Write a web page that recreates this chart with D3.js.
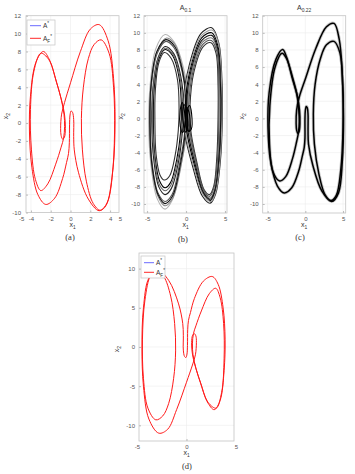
<!DOCTYPE html>
<html>
<head>
<meta charset="utf-8">
<script src="https://cdn.jsdelivr.net/npm/d3@7"></script>
<style>
  body { margin: 0; background: #fff; }
  svg text { font-family: "Liberation Sans", Arial, sans-serif; }
</style>
</head>
<body>
<div id="chart"></div>
<script>
// ---- (a) red periodic orbit: one figure-8 lap plus two inner loops ----
const aLapOuter = [
  [-0.2,-3.4],[-0.12,-2.2],[-0.1,-0.2],[-0.05,0.9],[0.06,1.35],[0.2,1.2],[0.32,0.4],[0.32,-1.5],[0.38,-3.0],
  [0.8,-5.5],[1.8,-8.5],[2.9,-9.8],[3.7,-8.9],[4.3,-5.0],[4.5,0.0],[4.35,5.0],[3.8,9.2],[2.9,11.0],
  [2.0,10.5],[1.0,8.0],[0.0,4.5],[-0.6,2.3],[-0.9,1.0],[-1.0,-0.6],[-0.95,-1.4],[-0.8,-1.8],[-0.62,-1.6],
  [-0.52,-0.6],[-0.6,0.9],[-0.85,2.3],[-1.4,4.5],[-2.1,7.0],[-2.75,8.0],[-3.5,6.8],[-4.05,3.0],
  [-4.15,-1.0],[-3.9,-5.0],[-3.3,-8.0],[-2.5,-9.1],[-1.6,-8.4],[-0.8,-6.2],[-0.4,-4.4]
];
const aLoopRight = [
  [3.1,9.3],[3.9,7.8],[4.35,4.0],[4.45,-1.0],[4.2,-6.0],[3.6,-9.2],[3.0,-9.75],[2.3,-9.0],
  [1.6,-6.5],[1.2,-3.0],[1.1,0.5],[1.3,4.0],[1.8,7.2],[2.4,8.8]
];
const aLoopLeft = [
  [-3.0,7.8],[-3.7,5.8],[-4.05,1.5],[-3.95,-3.0],[-3.55,-6.3],[-3.0,-7.55],[-2.3,-6.8],[-1.5,-4.6],
  [-0.95,-2.7],[-0.7,-1.7],[-0.6,-0.4],[-0.66,1.0],[-0.95,2.7],[-1.45,4.7],[-2.2,7.1]
];

// ---- (b) A_0.1: chaotic bands, grey and black ----
const bLeftLoops = [
  [[-2.7,9.8],[-3.9,8.1],[-4.6,4.0],[-4.8,-0.5],[-4.5,-5.5],[-3.7,-9.4],[-2.7,-10.6],[-1.8,-9.6],[-0.8,-6.0],[0.1,-1.8],[0.3,1.8],[-0.3,5.8],[-1.5,8.9]],
  [[-2.6,9.0],[-3.7,7.6],[-4.45,3.8],[-4.6,-0.5],[-4.35,-5.2],[-3.6,-8.7],[-2.7,-9.7],[-1.8,-8.9],[-0.9,-5.6],[-0.2,-1.8],[0.0,1.6],[-0.5,5.4],[-1.5,8.2]],
  [[-2.7,8.4],[-3.6,7.1],[-4.25,3.6],[-4.4,-0.4],[-4.15,-4.8],[-3.5,-8.0],[-2.7,-8.9],[-1.9,-8.2],[-1.0,-5.2],[-0.5,-1.8],[-0.3,1.4],[-0.7,5.0],[-1.6,7.6]],
  [[-2.7,8.05],[-3.55,6.8],[-4.1,3.4],[-4.2,-0.3],[-4.0,-4.4],[-3.4,-7.3],[-2.7,-8.1],[-2.0,-7.5],[-1.2,-4.8],[-0.7,-1.6],[-0.6,1.3],[-0.9,4.8],[-1.7,7.3]],
  [[-2.8,7.7],[-3.5,6.5],[-3.95,3.2],[-4.0,-0.3],[-3.85,-4.2],[-3.35,-6.6],[-2.8,-7.2],[-2.1,-6.7],[-1.4,-4.3],[-1.0,-1.4],[-0.9,1.2],[-1.1,4.5],[-1.9,7.0]],
  [[-2.5,9.4],[-3.7,7.9],[-4.5,3.9],[-4.7,-0.5],[-4.45,-5.3],[-3.65,-9.0],[-2.7,-10.2],[-1.7,-9.3],[-0.7,-5.8],[0.0,-1.6],[0.2,1.7],[-0.4,5.6],[-1.4,8.6]],
  [[-2.6,9.2],[-3.75,7.8],[-4.5,3.9],[-4.65,-0.5],[-4.4,-5.3],[-3.6,-8.9],[-2.7,-9.95],[-1.75,-9.1],[-0.8,-5.7],[-0.1,-1.7],[0.1,1.7],[-0.45,5.5],[-1.45,8.4]],
  [[-2.7,8.2],[-3.6,6.95],[-4.2,3.5],[-4.3,-0.35],[-4.05,-4.6],[-3.45,-7.7],[-2.7,-8.45],[-1.95,-7.8],[-1.1,-5.0],[-0.6,-1.7],[-0.45,1.35],[-0.8,4.9],[-1.65,7.45]]
];
const bRightLoops = [
  [[3.3,10.6],[4.2,8.8],[4.6,4.5],[4.65,0.0],[4.4,-5.0],[3.8,-8.8],[3.1,-9.9],[2.1,-9.1],[0.9,-5.8],[-0.2,-1.6],[-0.4,1.6],[0.4,6.2],[1.9,9.9]],
  [[3.3,10.0],[4.1,8.4],[4.5,4.3],[4.5,0.0],[4.3,-4.8],[3.75,-8.5],[3.1,-9.6],[2.2,-8.8],[1.1,-5.6],[0.1,-1.6],[-0.1,1.5],[0.6,6.0],[2.0,9.4]],
  [[3.3,9.4],[4.0,8.0],[4.3,4.1],[4.35,0.0],[4.15,-4.6],[3.7,-8.2],[3.1,-9.3],[2.3,-8.6],[1.3,-5.4],[0.4,-1.5],[0.2,1.5],[0.8,5.7],[2.1,8.9]],
  [[3.2,8.85],[3.85,7.6],[4.1,3.9],[4.1,0.0],[3.95,-4.4],[3.55,-7.9],[3.0,-8.9],[2.3,-8.3],[1.4,-5.2],[0.6,-1.4],[0.5,1.4],[1.0,5.4],[2.2,8.4]],
  [[3.4,10.3],[4.2,8.6],[4.55,4.4],[4.6,0.0],[4.35,-4.9],[3.8,-8.6],[3.2,-9.7],[2.2,-8.9],[1.0,-5.7],[-0.1,-1.6],[-0.3,1.6],[0.5,6.1],[2.0,9.7]],
  [[3.3,9.7],[4.05,8.2],[4.4,4.2],[4.45,0.0],[4.2,-4.7],[3.7,-8.35],[3.1,-9.45],[2.25,-8.7],[1.2,-5.5],[0.25,-1.55],[0.05,1.5],[0.7,5.85],[2.05,9.15]],
  [[3.25,9.1],[3.95,7.8],[4.2,4.0],[4.2,0.0],[4.05,-4.5],[3.6,-8.0],[3.05,-9.1],[2.3,-8.45],[1.35,-5.3],[0.5,-1.45],[0.35,1.45],[0.9,5.55],[2.15,8.65]]
];
const bCoreLoops = [
  [[-0.5,1.85],[-0.2,0.8],[-0.2,-1.0],[-0.45,-1.65],[-0.75,-0.9],[-0.75,1.0]],
  [[0.45,1.5],[0.7,0.6],[0.65,-1.3],[0.35,-1.5],[0.2,-0.3],[0.2,1.1]],
  [[-0.2,1.6],[0.1,0.7],[0.15,-1.2],[-0.1,-1.6],[-0.35,-0.6],[-0.4,1.0]],
  [[0.1,1.3],[0.45,0.4],[0.4,-1.5],[0.1,-1.3],[-0.05,0.0]]
];
const bLeftShades = ["#b4b4b4", "#555", "#222", "#000", "#333", "#888", "#111", "#666"];
const bRightShades = ["#222", "#000", "#777", "#333", "#999", "#111", "#555"];

// ---- (c) A_0.22: thick black orbit ----
const cLapOuter = [
  [-0.15,-3.4],[-0.05,-2.3],[-0.05,-0.2],[0.0,0.9],[0.12,1.4],[0.26,1.25],[0.36,0.4],[0.36,-1.5],[0.42,-3.0],
  [1.0,-5.5],[2.2,-8.5],[3.5,-9.7],[4.4,-8.7],[4.9,-5.0],[5.05,0.0],[4.9,5.0],[4.5,9.2],[3.8,11.1],
  [2.8,10.7],[1.4,8.2],[0.0,4.6],[-0.8,2.5],[-1.15,1.0],[-1.22,-0.6],[-1.15,-1.4],[-1.0,-1.75],[-0.82,-1.5],
  [-0.72,-0.6],[-0.78,1.0],[-1.05,2.6],[-1.7,4.6],[-2.5,7.2],[-3.0,8.05],[-3.9,6.9],[-4.8,3.0],
  [-4.95,-1.0],[-4.6,-5.0],[-3.7,-7.9],[-2.8,-8.7],[-1.8,-8.1],[-0.9,-6.2],[-0.4,-4.4]
];
const cLoopRight = [
  [3.8,9.0],[4.6,7.6],[4.95,4.0],[5.0,-1.0],[4.7,-6.0],[4.1,-9.0],[3.4,-9.6],[2.6,-8.9],
  [1.8,-6.5],[1.2,-3.0],[1.06,0.5],[1.3,4.0],[2.0,7.0],[2.8,8.6]
];
const cLoopLeft = [
  [-3.1,7.6],[-4.0,6.0],[-4.7,1.5],[-4.75,-3.0],[-4.3,-6.2],[-3.4,-7.3],[-2.6,-6.8],[-1.7,-4.7],
  [-1.15,-2.7],[-0.9,-1.6],[-0.8,-0.4],[-0.86,0.9],[-1.1,2.7],[-1.7,4.8],[-2.5,7.0]
];

// ---- (d) red orbit, mirrored counterpart ----
const dLapOuter = [
  [0.2,3.4],[0.12,2.2],[0.1,0.2],[0.05,-0.9],[-0.06,-1.35],[-0.2,-1.2],[-0.32,-0.4],[-0.32,1.5],[-0.38,3.0],
  [-0.8,5.5],[-1.8,8.5],[-2.9,9.8],[-3.8,8.8],[-4.35,5.0],[-4.5,0.0],[-4.35,-5.0],[-3.8,-9.2],[-2.8,-11.0],
  [-1.9,-10.5],[-1.0,-8.0],[0.0,-4.5],[0.6,-2.3],[0.9,-1.0],[1.0,0.6],[0.95,1.4],[0.8,1.7],[0.62,1.5],
  [0.52,0.6],[0.6,-0.9],[0.85,-2.3],[1.4,-4.5],[2.1,-7.0],[2.8,-8.0],[3.4,-6.8],[3.8,-3.0],
  [3.9,1.0],[3.7,5.0],[3.2,8.0],[2.6,9.0],[1.7,8.4],[0.8,6.2],[0.4,4.4]
];
const dLoopLeft = [
  [-3.1,-9.3],[-3.9,-7.8],[-4.35,-4.0],[-4.45,1.0],[-4.2,6.0],[-3.6,9.2],[-3.0,9.75],[-2.3,9.0],
  [-1.6,6.5],[-1.2,3.0],[-1.1,-0.5],[-1.3,-4.0],[-1.8,-7.2],[-2.4,-8.8]
];
const dLoopRight = [
  [3.0,-7.8],[3.55,-5.8],[3.8,-1.5],[3.75,3.0],[3.4,6.3],[2.95,7.5],[2.3,6.8],[1.5,4.6],
  [0.95,2.7],[0.7,1.7],[0.6,0.4],[0.66,-1.0],[0.95,-2.7],[1.45,-4.7],[2.2,-7.1]
];

const evenTicks = [-10, -8, -6, -4, -2, 0, 2, 4, 6, 8, 10, 12];

const svg = d3.select("#chart").append("svg")
  .attr("width", 355)
  .attr("height", 474);

// text with sub/superscript parts: [text, "sub"|"sup"|null]
function richText(parent, x, y, parts, size, opts = {}) {
  const t = parent.append("text")
    .attr("x", x).attr("y", y)
    .attr("font-size", size)
    .attr("fill", opts.fill || "#333")
    .attr("text-anchor", opts.anchor || "middle");
  if (opts.rotate) t.attr("transform", `rotate(${opts.rotate},${x},${y})`);
  let shift = 0;
  parts.forEach(([s, kind]) => {
    const target = kind === "sub" ? 2 : kind === "sup" ? -3 : 0;
    t.append("tspan")
      .attr("dy", target - shift)
      .attr("font-size", kind ? size * 0.7 : size)
      .attr("fill", opts.fill || "#333")
      .text(s);
    shift = target;
  });
  return t;
}

function drawPanel(p) {
  const [x0, x1, y0, y1] = p.box;
  const x = d3.scaleLinear().domain(p.xDomain).range([x0, x1]);
  const y = d3.scaleLinear().domain(p.yDomain).range([y1, y0]);
  const g = svg.append("g");

  // grid
  const inX = p.xTicks.filter(d => d > p.xDomain[0] && d < p.xDomain[1]);
  const inY = p.yTicks.filter(d => d > p.yDomain[0] && d < p.yDomain[1]);
  g.append("g").selectAll("line").data(inX).join("line")
    .attr("x1", d => x(d)).attr("x2", d => x(d))
    .attr("y1", y0).attr("y2", y1)
    .attr("stroke", "#ededed").attr("stroke-width", 0.6);
  g.append("g").selectAll("line").data(inY).join("line")
    .attr("y1", d => y(d)).attr("y2", d => y(d))
    .attr("x1", x0).attr("x2", x1)
    .attr("stroke", "#ededed").attr("stroke-width", 0.6);

  // curves
  const clipId = "clip-" + p.id;
  svg.append("clipPath").attr("id", clipId).append("rect")
    .attr("x", x0).attr("y", y0).attr("width", x1 - x0).attr("height", y1 - y0);
  const line = d3.line()
    .x(d => x(d[0])).y(d => y(d[1]))
    .curve(d3.curveCatmullRomClosed.alpha(0.5));
  const curves = g.append("g").attr("clip-path", `url(#${clipId})`);
  p.series.forEach(s => {
    curves.append("path")
      .attr("d", line(s.points))
      .attr("fill", "none")
      .attr("stroke", s.color)
      .attr("stroke-width", s.width)
      .attr("stroke-opacity", s.opacity == null ? 1 : s.opacity);
  });

  // box
  g.append("rect")
    .attr("x", x0).attr("y", y0).attr("width", x1 - x0).attr("height", y1 - y0)
    .attr("fill", "none").attr("stroke", "#c4c4c4").attr("stroke-width", 0.8);

  // axes
  const xa = g.append("g")
    .attr("transform", `translate(0,${y1})`)
    .call(d3.axisBottom(x).tickValues(p.xTicks).tickSizeInner(-2).tickSizeOuter(0)
      .tickPadding(4).tickFormat(d => String(d)));
  const ya = g.append("g")
    .attr("transform", `translate(${x0},0)`)
    .call(d3.axisLeft(y).tickValues(p.yTicks).tickSizeInner(-2).tickSizeOuter(0)
      .tickPadding(p.yPad || 4).tickFormat(d => String(d)));
  [xa, ya].forEach(a => {
    a.select(".domain").remove();
    a.selectAll(".tick line").attr("stroke", "#bbb");
    a.selectAll("text").attr("font-size", 6).attr("fill", "#555")
      .style("font-family", '"Liberation Sans", Arial, sans-serif');
  });
  xa.selectAll(".tick").filter(d => d < p.xDomain[0] || d > p.xDomain[1]).select("line").remove();

  // labels
  richText(g, (x0 + x1) / 2, y1 + 14, [["x", null], ["1", "sub"]], 7);
  richText(g, p.yLabelX, (y0 + y1) / 2 + 2, [["x", null], ["2", "sub"]], 7, { rotate: -90 });
  if (p.title) richText(g, (x0 + x1) / 2, 10, [["A", null], [p.title, "sub"]], 7);
  g.append("text")
    .attr("x", p.caption[1]).attr("y", p.caption[2])
    .attr("text-anchor", "middle")
    .attr("font-size", 8.5)
    .attr("fill", "#333")
    .style("font-family", '"Liberation Serif", "Times New Roman", serif')
    .text(p.caption[0]);

  // legend
  if (p.legend) {
    const L = p.legend;
    const lg = g.append("g");
    lg.append("rect")
      .attr("x", L.x).attr("y", L.y).attr("width", L.w).attr("height", L.h)
      .attr("fill", "#fff").attr("stroke", "#c4c4c4").attr("stroke-width", 0.7);
    const rows = [
      { color: "#6a6aff", parts: [["A", null], ["*", "sup"]] },
      { color: "#ff2a2a", parts: [["A", null], ["F", "sub"], ["*", "sup"]] }
    ];
    rows.forEach((r, i) => {
      const ry = L.y + L.row0 + i * L.dy;
      lg.append("line")
        .attr("x1", L.x + 3).attr("x2", L.x + 3 + L.len)
        .attr("y1", ry).attr("y2", ry)
        .attr("stroke", r.color).attr("stroke-width", 1);
      richText(lg, L.x + 5 + L.len, ry + 2.3, r.parts, 6.5, { anchor: "start" });
    });
  }
}

const red = "#ff1a1a";

drawPanel({
  id: "a",
  box: [26, 119, 15.7, 212.5],
  xDomain: [-4.5, 4.9], yDomain: [-10, 12],
  xTicks: [-5, -4, -2, 0, 2, 4, 5], yTicks: evenTicks,
  yPad: 5,
  yLabelX: 8,
  caption: ["(a)", 70, 240],
  legend: { x: 27, y: 20, w: 28, h: 25, row0: 5.7, dy: 12.6, len: 11 },
  series: [aLapOuter, aLoopRight, aLoopLeft].map(points => ({ points, color: red, width: 1 }))
});

drawPanel({
  id: "b",
  box: [144, 227, 15.7, 213],
  xDomain: [-5.4, 5.25], yDomain: [-11.05, 12],
  xTicks: [-5, 0, 5], yTicks: evenTicks,
  yLabelX: 123,
  title: "0.1",
  caption: ["(b)", 183, 242],
  series: [
    ...bLeftLoops.map((points, i) => ({ points, color: bLeftShades[i], width: 1.1 })),
    ...bRightLoops.map((points, i) => ({ points, color: bRightShades[i], width: 1.1 })),
    ...bCoreLoops.map(points => ({ points, color: "#000", width: 1.1 }))
  ]
});

drawPanel({
  id: "c",
  box: [262.7, 345.7, 15.7, 213],
  xDomain: [-5.65, 5.35], yDomain: [-11.05, 12],
  xTicks: [-5, 0, 5], yTicks: evenTicks,
  yLabelX: 244,
  title: "0.22",
  caption: ["(c)", 300, 240],
  series: [
    ...[cLapOuter, cLoopRight, cLoopLeft].map(points => ({ points, color: "#888", width: 3.2, opacity: 0.45 })),
    ...[cLapOuter, cLoopRight, cLoopLeft].map(points => ({ points, color: "#000", width: 1.5 }))
  ]
});

drawPanel({
  id: "d",
  box: [139, 234, 253, 441],
  xDomain: [-4.8, 4.8], yDomain: [-12, 12],
  xTicks: [-5, 0, 5], yTicks: [-10, -5, 0, 5, 10],
  yLabelX: 119,
  caption: ["(d)", 187, 469],
  legend: { x: 141, y: 256, w: 24, h: 22, row0: 6.7, dy: 9.6, len: 10 },
  series: [dLapOuter, dLoopLeft, dLoopRight].map(points => ({ points, color: red, width: 1 }))
});
</script>
</body>
</html>
